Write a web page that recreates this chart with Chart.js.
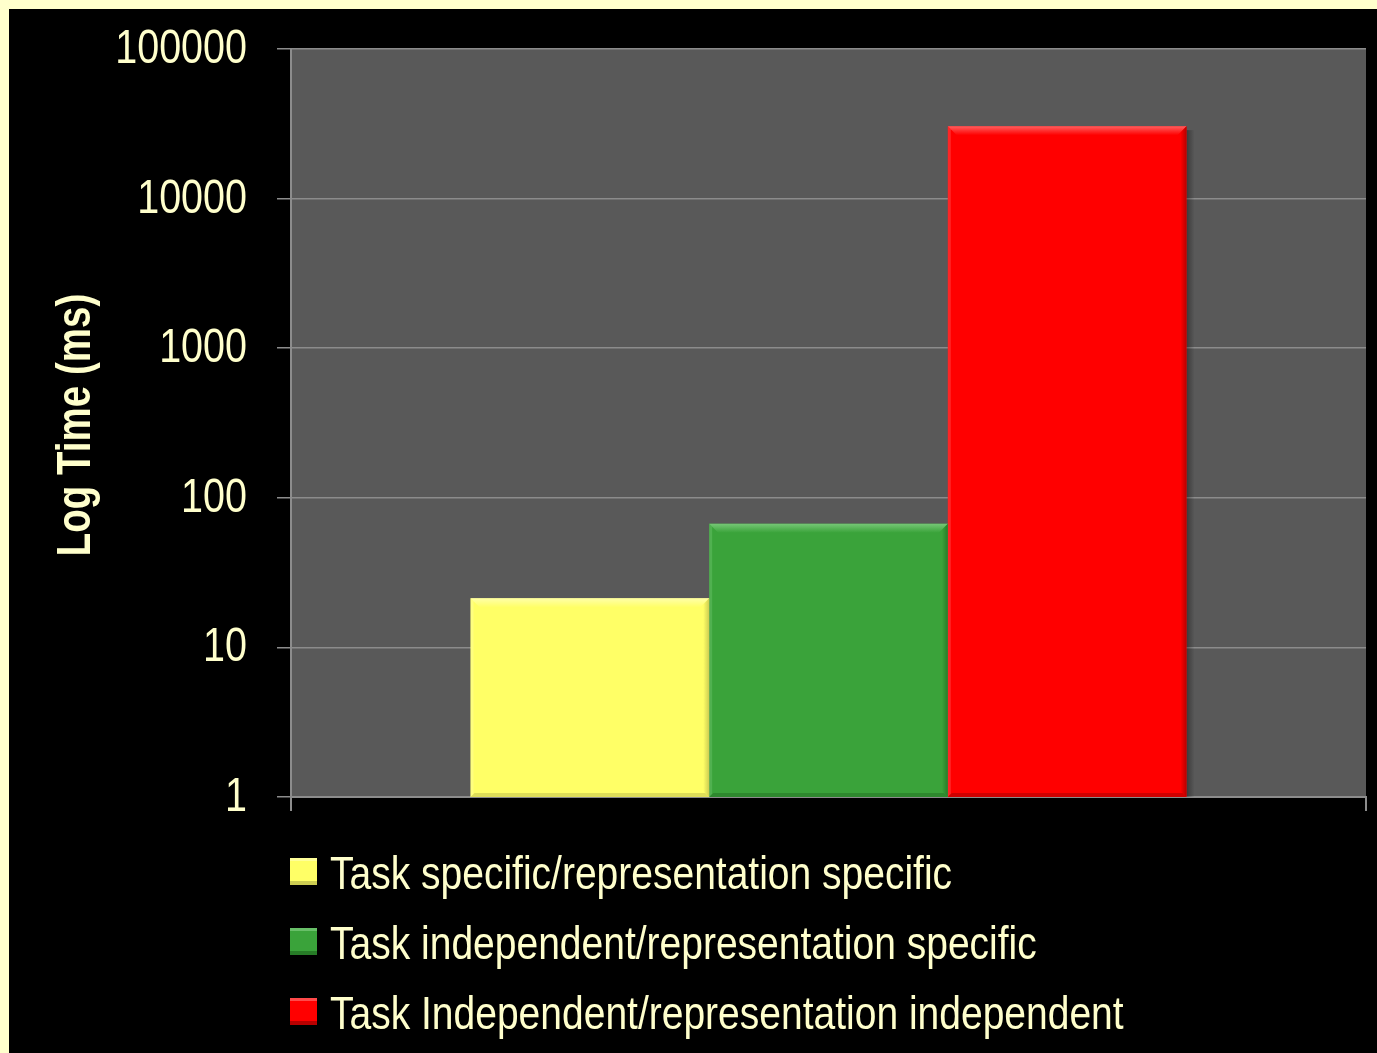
<!DOCTYPE html>
<html>
<head>
<meta charset="utf-8">
<script src="https://cdn.jsdelivr.net/npm/chart.js@4/dist/chart.umd.min.js"></script>
<style>
  html, body { margin: 0; padding: 0; background: #FFFFCC; }
  body { width: 1377px; height: 1053px; overflow: hidden; position: relative; }
  #wrap { position: absolute; left: 9px; top: 9px; width: 1368px; height: 1044px; background: #000; }
  canvas { display: block; }
</style>
</head>
<body>
<div id="wrap"><canvas id="c" width="1368" height="1044"></canvas></div>
<script>
const categories = [''];
const seriesLabels = [
  'Task specific/representation specific',
  'Task independent/representation specific',
  'Task Independent/representation independent'
];
const yellowValues = [21.3];
const greenValues = [67];
const redValues = [30500];
const yTicks = [1, 10, 100, 1000, 10000, 100000];
const yTitle = 'Log Time (ms)';

const TEXT = '#FFFFCC';
const FONT = '"Liberation Sans", Arial, sans-serif';
const barColors = ['#FFFF66', '#3AA33A', '#FF0000'];
const barLight = ['#FFFFB0', '#7CCB7C', '#FF6A6A'];
const barDark = ['#C8C850', '#267826', '#B00000'];

function alpha(hex, a) {
  const n = parseInt(hex.slice(1), 16);
  return `rgba(${(n >> 16) & 255},${(n >> 8) & 255},${n & 255},${a})`;
}

const plotBg = {
  id: 'plotBg',
  beforeDraw(chart) {
    const {ctx, chartArea: a} = chart;
    ctx.save();
    ctx.fillStyle = '#000';
    ctx.fillRect(0, 0, chart.width, chart.height);
    ctx.fillStyle = '#595959';
    ctx.fillRect(a.left, a.top, a.right - a.left, a.bottom - a.top);
    ctx.restore();
  }
};

const bevel = {
  id: 'bevel',
  beforeDatasetsDraw(chart) {
    const ctx = chart.ctx;
    ctx.save();
    chart.data.datasets.forEach((ds, i) => {
      chart.getDatasetMeta(i).data.forEach(el => {
        const r = el.x + el.width / 2;
        const g = ctx.createLinearGradient(r, 0, r + 8, 0);
        g.addColorStop(0, 'rgba(0,0,0,0.35)');
        g.addColorStop(1, 'rgba(0,0,0,0)');
        ctx.fillStyle = g;
        ctx.fillRect(r, el.y + 4, 8, el.base - el.y - 4);
      });
    });
    ctx.restore();
  },
  afterDatasetsDraw(chart) {
    const ctx = chart.ctx;
    ctx.save();
    chart.data.datasets.forEach((ds, i) => {
      chart.getDatasetMeta(i).data.forEach(el => {
        const l = el.x - el.width / 2, r = el.x + el.width / 2;
        const t = el.y, b = el.base;
        const gt = ctx.createLinearGradient(0, t, 0, t + 9);
        gt.addColorStop(0, alpha(barLight[i], 0.9));
        gt.addColorStop(1, alpha(barLight[i], 0));
        ctx.fillStyle = gt;
        ctx.beginPath();
        ctx.moveTo(l, t); ctx.lineTo(r, t); ctx.lineTo(r - 9, t + 9); ctx.lineTo(l + 9, t + 9); ctx.closePath();
        ctx.fill();
        ctx.fillStyle = alpha(barLight[i], 0.35);
        ctx.beginPath();
        ctx.moveTo(l, t); ctx.lineTo(l + 3, t + 3); ctx.lineTo(l + 3, b - 3); ctx.lineTo(l, b); ctx.closePath();
        ctx.fill();
        const gr = ctx.createLinearGradient(r - 6, 0, r, 0);
        gr.addColorStop(0, alpha(barDark[i], 0));
        gr.addColorStop(1, alpha(barDark[i], 0.9));
        ctx.fillStyle = gr;
        ctx.beginPath();
        ctx.moveTo(r, t); ctx.lineTo(r, b); ctx.lineTo(r - 6, b - 6); ctx.lineTo(r - 6, t + 6); ctx.closePath();
        ctx.fill();
        ctx.fillStyle = alpha(barDark[i], 0.6);
        ctx.beginPath();
        ctx.moveTo(l, b); ctx.lineTo(r, b); ctx.lineTo(r - 4, b - 4); ctx.lineTo(l + 4, b - 4); ctx.closePath();
        ctx.fill();
      });
    });
    ctx.restore();
  }
};

const textLayer = {
  id: 'textLayer',
  afterDraw(chart) {
    const ctx = chart.ctx;
    const ys = chart.scales.y;
    ctx.save();
    ctx.fillStyle = TEXT;
    ctx.font = '39.5px ' + FONT;
    ctx.textAlign = 'right';
    ctx.textBaseline = 'middle';
    ys.ticks.forEach(t => {
      const y = ys.getPixelForValue(t.value);
      ctx.save();
      ctx.translate(ys.right - 14 - 30, y + 1);
      ctx.scale(1, 1.2);
      ctx.fillText(String(t.value), 0, 0);
      ctx.restore();
    });
    ctx.save();
    ctx.font = 'bold 38.5px ' + FONT;
    ctx.textAlign = 'center';
    ctx.textBaseline = 'middle';
    ctx.translate(67.5, (chart.chartArea.top + chart.chartArea.bottom) / 2 + 2);
    ctx.rotate(-Math.PI / 2);
    ctx.scale(1, 1.27);
    ctx.fillText(yTitle, 0, 0);
    ctx.restore();
    const x0 = chart.chartArea.left - 1;
    const base = [880, 950, 1020];
    ctx.font = '39px ' + FONT;
    ctx.textAlign = 'left';
    ctx.textBaseline = 'alphabetic';
    chart.data.datasets.forEach((ds, i) => {
      const by = base[i] - 31;
      ctx.fillStyle = barColors[i];
      ctx.fillRect(x0, by, 27, 27);
      ctx.fillStyle = alpha(barLight[i], 0.7);
      ctx.fillRect(x0, by, 27, 3);
      ctx.fillStyle = alpha(barDark[i], 0.9);
      ctx.fillRect(x0, by + 23, 27, 4);
      ctx.save();
      ctx.translate(x0 + 40, base[i]);
      ctx.scale(1, 1.2);
      ctx.fillStyle = TEXT;
      ctx.fillText(ds.label, 0, 0);
      ctx.restore();
    });
    ctx.restore();
  }
};

new Chart(document.getElementById('c'), {
  type: 'bar',
  data: {
    labels: categories,
    datasets: [
      { label: seriesLabels[0], data: yellowValues, backgroundColor: barColors[0], borderWidth: 0 },
      { label: seriesLabels[1], data: greenValues, backgroundColor: barColors[1], borderWidth: 0 },
      { label: seriesLabels[2], data: redValues, backgroundColor: barColors[2], borderWidth: 0 }
    ]
  },
  options: {
    responsive: false,
    animation: false,
    categoryPercentage: 0.666,
    barPercentage: 1.0,
    layout: { padding: { top: 40, right: 11, left: 0, bottom: 0 } },
    plugins: {
      legend: { display: false },
      tooltip: { enabled: false }
    },
    scales: {
      x: {
        type: 'category',
        offset: true,
        border: { display: true, color: '#8C8C8C', width: 2 },
        grid: { display: true, offset: true, drawOnChartArea: false, drawTicks: true, tickLength: 14, color: '#8C8C8C', lineWidth: 2 },
        ticks: { display: false },
        afterFit(scale) { scale.height = 256; }
      },
      y: {
        type: 'logarithmic',
        min: 1,
        max: 100000,
        border: { display: true, color: '#8C8C8C', width: 2 },
        grid: { color: '#8C8C8C', lineWidth: 1.5, tickLength: 14, drawTicks: true },
        afterBuildTicks(scale) { scale.ticks = yTicks.map(v => ({ value: v })); },
        ticks: { display: false },
        title: { display: false, text: yTitle },
        afterFit(scale) { scale.width = 282; }
      }
    }
  },
  plugins: [plotBg, bevel, textLayer]
});
</script>
</body>
</html>
